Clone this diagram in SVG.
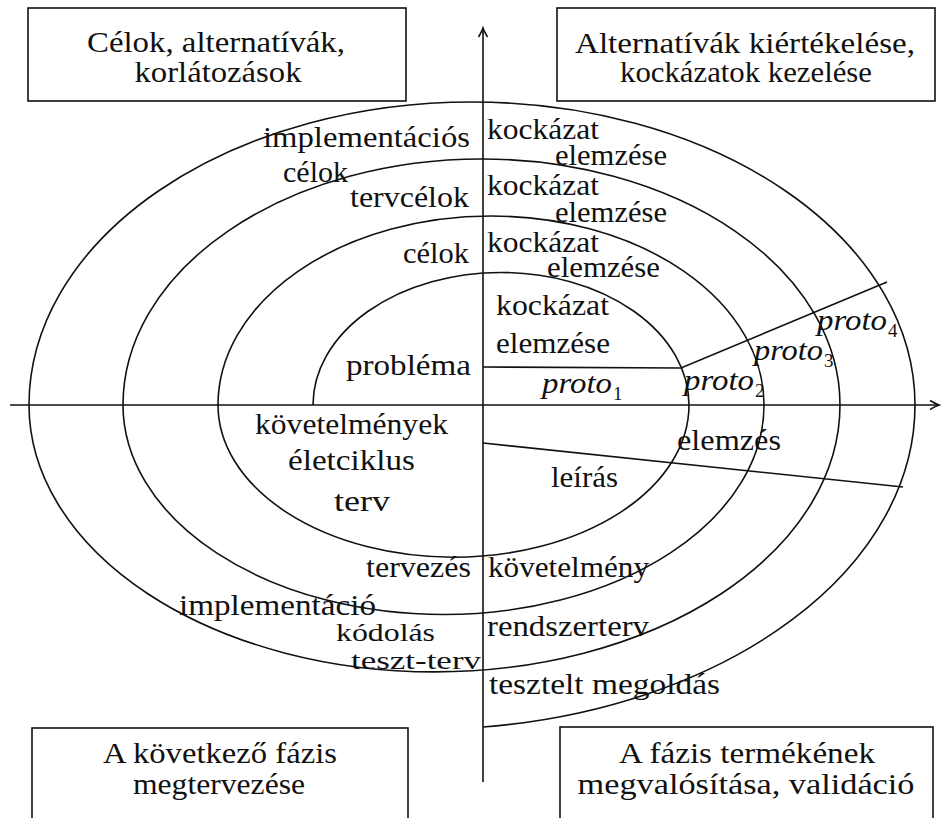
<svg xmlns="http://www.w3.org/2000/svg" width="943" height="818" viewBox="0 0 943 818">
  <style>
    .t { font-family: "Liberation Serif", "DejaVu Serif", serif; font-size: 29px; fill: #111; }
    .s { font-size: 25px; }
    .c { text-anchor: middle; }
    .i { font-style: italic; }
    .sub { font-family: "Liberation Serif", "DejaVu Serif", serif; font-size: 19px; fill: #111; }
    .ln { stroke: #111; stroke-width: 1.6; fill: none; }
    .box { stroke: #111; stroke-width: 1.6; fill: #fff; }
  </style>
  <defs>
    <marker id="arrow" viewBox="-10 -6 12 12" refX="0" refY="0" markerWidth="12" markerHeight="12" markerUnits="userSpaceOnUse" orient="auto">
      <path d="M -9 -4.5 Q -3 -1 0 0 Q -3 1 -9 4.5" fill="none" stroke="#111" stroke-width="1.6"/>
    </marker>
  </defs>

  <rect width="943" height="818" fill="#fff"/>

  <!-- corner boxes -->
  <g id="box-goals">
    <rect class="box" x="28" y="8" width="378" height="93"/>
    <text class="t c" x="216" y="52" textLength="258" lengthAdjust="spacingAndGlyphs">Célok, alternatívák,</text>
    <text class="t c" x="218" y="82" textLength="167" lengthAdjust="spacingAndGlyphs">korlátozások</text>
  </g>
  <g id="box-risks">
    <rect class="box" x="557" y="8" width="378" height="93"/>
    <text class="t c" x="745" y="53" textLength="340" lengthAdjust="spacingAndGlyphs">Alternatívák kiértékelése,</text>
    <text class="t c" x="746" y="82" textLength="252" lengthAdjust="spacingAndGlyphs">kockázatok kezelése</text>
  </g>
  <g id="box-planning">
    <rect class="box" x="32" y="728" width="376" height="110"/>
    <text class="t c" x="220" y="763" textLength="234" lengthAdjust="spacingAndGlyphs">A következő fázis</text>
    <text class="t c" x="219" y="794" textLength="172" lengthAdjust="spacingAndGlyphs">megtervezése</text>
  </g>
  <g id="box-realisation">
    <rect class="box" x="560" y="727" width="373" height="110"/>
    <text class="t c" x="747" y="763" textLength="256" lengthAdjust="spacingAndGlyphs">A fázis termékének</text>
    <text class="t c" x="746" y="794" textLength="337" lengthAdjust="spacingAndGlyphs">megvalósítása, validáció</text>
  </g>

  <!-- axes, spiral and sector dividers -->
  <g id="connectors">
    <line class="ln" x1="10" y1="405" x2="939" y2="405" marker-end="url(#arrow)"/>
    <line class="ln" x1="483" y1="782" x2="483" y2="28" marker-end="url(#arrow)"/>
    <path class="ln" d="M 313 405
      A 188 132.6 0 0 1 689 405
      A 235.5 152.2 0 0 1 218 405
      A 273 189 0 0 1 764 405
      A 320.5 209.6 0 0 1 123 405
      A 358.5 246 0 0 1 840 405
      A 405.5 267 0 0 1 29 405
      A 443 303 0 0 1 915 405
      A 490.5 324.3 0 0 1 483 727"/>
    <polyline class="ln" points="483,367 681,368 887,282"/>
    <line class="ln" x1="483" y1="443" x2="903" y2="487"/>
  </g>

  <!-- upper-left quadrant: goals -->
  <g id="labels-goals">
    <text class="t" x="263" y="147" textLength="207" lengthAdjust="spacingAndGlyphs">implementációs</text>
    <text class="t" x="283" y="182" textLength="65" lengthAdjust="spacingAndGlyphs">célok</text>
    <text class="t" x="350" y="207" textLength="119" lengthAdjust="spacingAndGlyphs">tervcélok</text>
    <text class="t" x="403" y="263" textLength="66" lengthAdjust="spacingAndGlyphs">célok</text>
    <text class="t" x="346" y="375" textLength="125" lengthAdjust="spacingAndGlyphs">probléma</text>
  </g>

  <!-- upper-right quadrant: risk analysis and prototypes -->
  <g id="labels-risks">
    <text class="t" x="487" y="139" textLength="112" lengthAdjust="spacingAndGlyphs">kockázat</text>
    <text class="t" x="555" y="165" textLength="112" lengthAdjust="spacingAndGlyphs">elemzése</text>
    <text class="t" x="487" y="195" textLength="112" lengthAdjust="spacingAndGlyphs">kockázat</text>
    <text class="t" x="555" y="222" textLength="112" lengthAdjust="spacingAndGlyphs">elemzése</text>
    <text class="t" x="487" y="252" textLength="112" lengthAdjust="spacingAndGlyphs">kockázat</text>
    <text class="t" x="547" y="277" textLength="113" lengthAdjust="spacingAndGlyphs">elemzése</text>
    <text class="t" x="496" y="315" textLength="113" lengthAdjust="spacingAndGlyphs">kockázat</text>
    <text class="t" x="496" y="353" textLength="114" lengthAdjust="spacingAndGlyphs">elemzése</text>
    <text class="t i" x="542" y="393" textLength="70" lengthAdjust="spacingAndGlyphs">proto</text><text class="sub" x="613" y="400">1</text>
    <text class="t i" x="684" y="390" textLength="70" lengthAdjust="spacingAndGlyphs">proto</text><text class="sub" x="755" y="397">2</text>
    <text class="t i" x="754" y="360" textLength="69" lengthAdjust="spacingAndGlyphs">proto</text><text class="sub" x="824" y="367">3</text>
    <text class="t i" x="817" y="330" textLength="70" lengthAdjust="spacingAndGlyphs">proto</text><text class="sub" x="888" y="337">4</text>
  </g>

  <!-- lower-right quadrant: products -->
  <g id="labels-products">
    <text class="t" x="677" y="450" textLength="104" lengthAdjust="spacingAndGlyphs">elemzés</text>
    <text class="t" x="551" y="487" textLength="67" lengthAdjust="spacingAndGlyphs">leírás</text>
    <text class="t" x="488" y="577" textLength="161" lengthAdjust="spacingAndGlyphs">követelmény</text>
    <text class="t" x="487" y="636" textLength="162" lengthAdjust="spacingAndGlyphs">rendszerterv</text>
    <text class="t" x="489" y="694" textLength="231" lengthAdjust="spacingAndGlyphs">tesztelt megoldás</text>
  </g>

  <!-- lower-left quadrant: plans -->
  <g id="labels-plans">
    <text class="t" x="255" y="434" textLength="193" lengthAdjust="spacingAndGlyphs">követelmények</text>
    <text class="t" x="288" y="470" textLength="127" lengthAdjust="spacingAndGlyphs">életciklus</text>
    <text class="t" x="334" y="511" textLength="56" lengthAdjust="spacingAndGlyphs">terv</text>
    <text class="t" x="366" y="577" textLength="105" lengthAdjust="spacingAndGlyphs">tervezés</text>
    <text class="t" x="179" y="615" textLength="197" lengthAdjust="spacingAndGlyphs">implementáció</text>
    <text class="t s" x="336" y="641" textLength="99" lengthAdjust="spacingAndGlyphs">kódolás</text>
    <text class="t s" x="351" y="669" textLength="130" lengthAdjust="spacingAndGlyphs">teszt-terv</text>
  </g>
</svg>
